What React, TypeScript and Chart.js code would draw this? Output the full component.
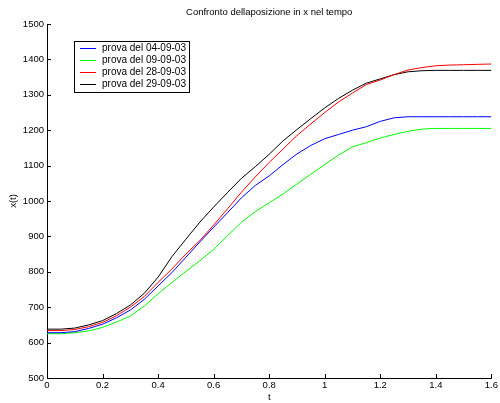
import React, { useEffect, useRef } from "react";
import { Chart, registerables } from "chart.js";

Chart.register(...registerables);

const title = "Confronto dellaposizione in x nel tempo";
const xLabel = "t";
const yLabel = "x(t)";
const seriesLabels = ["prova del 04-09-03", "prova del 09-09-03", "prova del 28-09-03", "prova del 29-09-03"];
const seriesColors = ["#0000ff", "#00ff00", "#ff0000", "#000000"];

const tValues = [0, 0.05, 0.1, 0.15, 0.2, 0.25, 0.3, 0.35, 0.4, 0.45, 0.5, 0.55, 0.6, 0.65, 0.7, 0.75, 0.8, 0.85, 0.9, 0.95, 1.0, 1.05, 1.1, 1.15, 1.2, 1.25, 1.3, 1.35, 1.4, 1.45, 1.5, 1.55, 1.6];

const prova040903 = [628, 628, 631, 640, 652, 670, 692, 722, 760, 798, 841, 884, 926, 967, 1009, 1044, 1071, 1103, 1133, 1157, 1176, 1188, 1200, 1210, 1225, 1235, 1238, 1238, 1238, 1238, 1238, 1238, 1238];
const prova090903 = [625, 625, 628, 633, 643, 658, 675, 703, 738, 770, 801, 831, 863, 902, 940, 970, 995, 1020, 1048, 1076, 1103, 1130, 1153, 1165, 1178, 1188, 1197, 1203, 1205, 1205, 1205, 1205, 1205];
const prova280903 = [634, 634, 637, 645, 657, 676, 700, 730, 770, 808, 850, 888, 932, 978, 1025, 1068, 1109, 1147, 1185, 1218, 1250, 1280, 1305, 1329, 1342, 1357, 1370, 1377, 1382, 1384, 1385, 1386, 1387];
const prova290903 = [638, 638, 641, 650, 662, 682, 706, 739, 785, 843, 892, 940, 983, 1024, 1064, 1097, 1132, 1170, 1202, 1233, 1263, 1290, 1313, 1333, 1345, 1357, 1365, 1368, 1369, 1369, 1369, 1369, 1369];

const allSeries = [prova040903, prova090903, prova280903, prova290903];

const xTicks = [0, 0.2, 0.4, 0.6, 0.8, 1, 1.2, 1.4, 1.6];
const yTicks = [500, 600, 700, 800, 900, 1000, 1100, 1200, 1300, 1400, 1500];

const FONT = "'Liberation Sans', Arial, Helvetica, sans-serif";
const SMALL = 9.5;

const inwardTicks = {
  id: "inwardTicks",
  afterDraw(chart: any) {
    const ctx = chart.ctx;
    const area = chart.chartArea;
    const xs = chart.scales.x;
    const ys = chart.scales.y;
    ctx.save();
    ctx.strokeStyle = "#000";
    ctx.lineWidth = 1;
    ctx.beginPath();
    xTicks.forEach((v) => {
      const px = Math.round(xs.getPixelForValue(v)) + 0.5;
      ctx.moveTo(px, area.bottom);
      ctx.lineTo(px, area.bottom - 4);
    });
    yTicks.forEach((v) => {
      const py = Math.round(ys.getPixelForValue(v)) + 0.5;
      ctx.moveTo(area.left, py);
      ctx.lineTo(area.left + 4, py);
    });
    ctx.stroke();
    ctx.restore();
  },
};

const boxLegend = {
  id: "boxLegend",
  afterDraw(chart: any) {
    const ctx = chart.ctx;
    const x0 = 74.5, y0 = 41.5, w = 115, h = 51;
    ctx.save();
    ctx.fillStyle = "#fff";
    ctx.fillRect(x0, y0, w, h);
    ctx.strokeStyle = "#000";
    ctx.lineWidth = 1;
    ctx.strokeRect(x0, y0, w, h);
    ctx.font = `10px ${FONT}`;
    ctx.textBaseline = "middle";
    ctx.textAlign = "left";
    chart.data.datasets.forEach((ds: any, i: number) => {
      const y = Math.round(47.5 + i * 12) + 0.5;
      ctx.strokeStyle = ds.borderColor;
      ctx.beginPath();
      ctx.moveTo(80, y);
      ctx.lineTo(96, y);
      ctx.stroke();
      ctx.fillStyle = "#000";
      ctx.fillText(ds.label, 102, y);
    });
    ctx.restore();
  },
};

export default function App() {
  const ref = useRef<HTMLCanvasElement | null>(null);
  useEffect(() => {
    if (!ref.current) return;
    const chart = new Chart(ref.current, {
      type: "line",
      data: {
        datasets: allSeries.map((s, i) => ({
          label: seriesLabels[i],
          data: s.map((v, j) => ({ x: tValues[j], y: v })),
          borderColor: seriesColors[i],
          backgroundColor: seriesColors[i],
          borderWidth: 1,
          pointRadius: 0,
          tension: 0,
          fill: false,
        })),
      },
      options: {
        responsive: false,
        animation: false,
        layout: { padding: { left: 0, right: 7, top: 0, bottom: 0 } },
        plugins: {
          legend: { display: false },
          tooltip: { enabled: false },
          title: {
            display: true,
            text: title,
            fullSize: false,
            color: "#000",
            font: { family: FONT, size: SMALL, weight: "normal", lineHeight: 1.2 },
            padding: { top: 7, bottom: 5.6 },
          },
        },
        scales: {
          x: {
            type: "linear",
            min: 0,
            max: 1.6,
            afterFit: (s: any) => { s.height = 25; },
            afterBuildTicks: (s: any) => { s.ticks = xTicks.map((v) => ({ value: v })); },
            grid: { display: false, drawTicks: false },
            border: { display: true, color: "#000", width: 1 },
            ticks: { color: "#000", padding: 2, font: { family: FONT, size: SMALL }, maxRotation: 0, autoSkip: false, callback: (v: any) => String(v) },
            title: { display: true, text: xLabel, color: "#000", font: { family: FONT, size: SMALL }, padding: { top: 0, bottom: 0 } },
          },
          y: {
            type: "linear",
            min: 500,
            max: 1500,
            afterFit: (s: any) => { s.width = 47; },
            afterBuildTicks: (s: any) => { s.ticks = yTicks.map((v) => ({ value: v })); },
            grid: { display: false, drawTicks: false },
            border: { display: true, color: "#000", width: 1 },
            ticks: { color: "#000", padding: 3, font: { family: FONT, size: SMALL }, autoSkip: false, callback: (v: any) => String(v) },
            title: { display: true, text: yLabel, color: "#000", font: { family: FONT, size: SMALL }, padding: { top: 8, bottom: 0 } },
          },
        },
      },
      plugins: [inwardTicks, boxLegend],
    } as any);
    return () => chart.destroy();
  }, []);
  return (
    <div style={{ position: "absolute", left: 0, top: 0, width: 500, height: 403, background: "#fff" }}>
      <canvas ref={ref} width={500} height={403} />
    </div>
  );
}
